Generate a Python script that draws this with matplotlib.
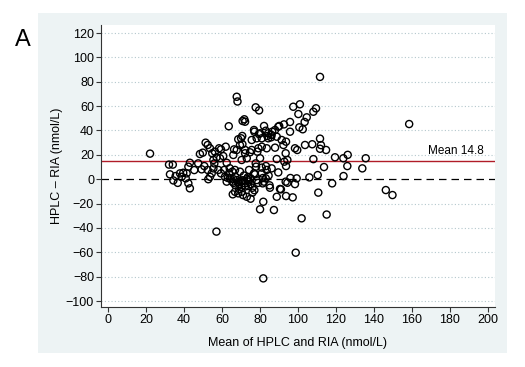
import matplotlib
matplotlib.use("Agg")
import matplotlib.pyplot as plt
from matplotlib.patches import Rectangle

plt.rcParams['font.family'] = ['Liberation Sans', 'DejaVu Sans']

# Mean of HPLC and RIA (nmol/L)
mean_vals = [
    22, 32, 34, 32.5, 34.3, 36.6, 35.5, 37.8, 38.7, 39.5, 40.8, 41.3, 42.2, 42.2, 43, 43, 45.3, 47.4, 48.3, 49.8, 49.2,
    50.6, 51.3, 52.4, 53.6, 54.8, 52.4, 52.7, 53.6, 54.5, 55.9, 55.4, 56.2, 57.1, 58.4, 59.4, 58, 59.4, 55.4, 58.9, 57,
    60.6, 61.9, 62.4, 61.1, 61.5, 62.4, 63.6, 64.2, 65.4, 65.4, 66.8, 67.7, 68.5, 65.9, 67.7, 69.4, 70, 70.6, 66.8, 68.5,
    65.6, 63.5, 67.7, 68.1, 66.3, 68.5, 69.4, 70.3, 70.3, 70.3, 70, 70.5, 66, 67, 69, 66, 67, 64, 63,
    70.8, 71.7, 72.1, 70.7, 72.1, 74.7, 72.1, 73, 75.6, 75.6, 76.8, 77, 78.2, 77.7, 79.5, 79.4, 80, 79.1, 78.6, 80,
    77.7, 77.9, 74.2, 77.3, 76.8, 75.1, 73.8, 73, 78.2, 72.1, 73.8, 73, 75, 71.5, 80, 80.9, 80.9, 80.9, 80.9,
    71, 72, 74, 75, 76, 77, 76, 71, 69, 79, 73.5,
    82.1, 83, 84.3, 86.4, 87.9, 89.6, 85.8, 83.8, 86.1, 88.8, 84.3, 83.5, 87.9, 83.1, 83.5, 86.1, 89.6, 83, 81.4,
    85.2, 90.5, 88.8, 81.7, 87.3, 81.7, 88.8, 82, 85, 84.5, 81.5,
    90.1, 92.6, 95.8, 95.8, 97.5, 91.4, 93.7, 92.3, 93.5, 92.8, 94.4, 93.7, 98.4, 99.6, 99.3, 93.5, 94.4, 98.4,
    93.7, 97.2, 98.8, 91, 96,
    101, 100.2, 104.6, 103.5, 100.7, 102.5, 108.1, 109.5, 103.7, 107.5, 108.1, 106, 110.4, 101.9, 110.7,
    111.6, 111.6, 111.6, 112.1, 114.8, 113.7, 119.5, 123.9, 126.2, 135.7, 126, 133.9, 124, 118, 115.1,
    146.3, 149.8, 158.6,
]

# HPLC - RIA difference (nmol/L)
diff_vals = [
    21, 12, 12, 4, -1, -3, 2.6, 4.8, 2, 5.3, 0.7, 4.8, 10.3, -3.4, 13.5, -7.5, 7.5, 13, 20.7, 21.8, 8.1,
    10.8, 30, 28.1, 25.4, 21.3, 7.6, 0, 2, 4.8, 13, 8.9, 22.6, 18, 25.4, 24.5, 7.6, 4.8, 15.8, 17.2, -43,
    19, 26.7, 13.5, 7.6, 2, -2, 4.8, 0.7, 6.2, -2, 7.6, -0.7, -2, 19.9, 24, 28, 33.6, 35.5, -10.3, -11.6,
    -12.4, 43.5, 67.7, 63.8, 24.5, 32.8, 6.2, -6.2, -10.3, 15.8, -2, -1, -3, -5, -4, 0, 2, 9, 1,
    47.8, 49.2, 47.2, 28.7, 24, 22.1, 21.3, 17.2, 32.2, 24, 40.4, 39, 33.6, 59, 56.5, 37.1, 37.7, 25.4, 22.6, 17.2,
    13, 10.3, 7.6, 4, 4.8, 0.7, -0.7, 0, -0.7, -3.4, -5.6, -14.4, -16, 3, -24.7, 26.7, 33.6, 4.8, 9.5,
    -1, -6, -2, -4, -7, -9, -11, -13, -8, -3, 1.5,
    43.7, 39.8, 37.7, 39, 40.4, 43.1, 34.4, 35.5, 36.3, 34.9, 33.6, 25.4, 25.9, 10.8, 7.6, 8.9, 5.6, 0.7, -3.4,
    -7, -8, -14.4, -18.5, -25.3, -81.4, 16.6, -2, -5, 3, 1,
    43.7, 45, 47, 39, 59.5, 32.2, 30.8, 28.1, 21.3, 14.4, 15.8, 10.8, 25.4, 24, 0.7, -2, -2.9, -4,
    -13.8, -14.9, -60.3, -8.3, 1,
    61.5, 53.5, 50.8, 47, 42.6, 41, 55.4, 58.2, 28.1, 28.7, 16.5, 1.5, 3.4, -32.1, -11,
    84, 33.3, 25, 28, 24, 10, 18, 17.2, 20, 17.2, 10.8, 8.9, 2.6, -3.4, -29,
    -8.9, -13, 45.3,
]

mean_diff = 14.8
x_ticks = [0, 20, 40, 60, 80, 100, 120, 140, 160, 180, 200]
y_ticks = [-100, -80, -60, -40, -20, 0, 20, 40, 60, 80, 100, 120]

fig = plt.figure(figsize=(5.25, 3.67), dpi=100, facecolor='white')
bg = Rectangle((38 / 525, 1 - 353 / 367), (507 - 38) / 525, (353 - 13) / 367,
               transform=fig.transFigure, facecolor='#edf3f4', edgecolor='none', zorder=-10)
fig.patches.append(bg)

ax = fig.add_axes([101 / 525, 1 - 307 / 367, 394 / 525, 282 / 367])
ax.set_zorder(1)
ax.set_facecolor('white')
ax.set_xlim(-3.85, 203.85)
ax.set_ylim(-104.9, 126.6)

for yt in y_ticks:
    if yt != 0:
        ax.axhline(yt, color='#b4c8cd', linestyle=(0, (1, 2)), linewidth=0.8, zorder=1)

ax.axhline(mean_diff, color='#b01c28', linewidth=1.0, zorder=2)
ax.axhline(0, color='black', linestyle=(0, (6, 4)), linewidth=0.9, zorder=2)

ax.scatter(mean_vals, diff_vals, s=26, facecolors='none', edgecolors='black', linewidths=1.0, zorder=3)

ax.text(198, 18.5, 'Mean 14.8', ha='right', va='bottom', fontsize=8.5)

ax.spines['top'].set_visible(False)
ax.spines['right'].set_visible(False)
ax.spines['left'].set_color('#333333')
ax.spines['bottom'].set_color('#333333')
ax.set_xticks(x_ticks)
ax.set_yticks(y_ticks)
ax.tick_params(axis='both', direction='out', length=3.5, width=0.8, color='#333333', labelsize=9, pad=1.5)
ax.set_xlabel('Mean of HPLC and RIA (nmol/L)', fontsize=9, labelpad=8)
ax.set_ylabel('HPLC \u2013 RIA (nmol/L)', fontsize=9, labelpad=2)

fig.text(15 / 525, 1 - 46 / 367, 'A', fontsize=17, ha='left', va='baseline')

fig.savefig('out.png', dpi=100, facecolor=fig.get_facecolor())
